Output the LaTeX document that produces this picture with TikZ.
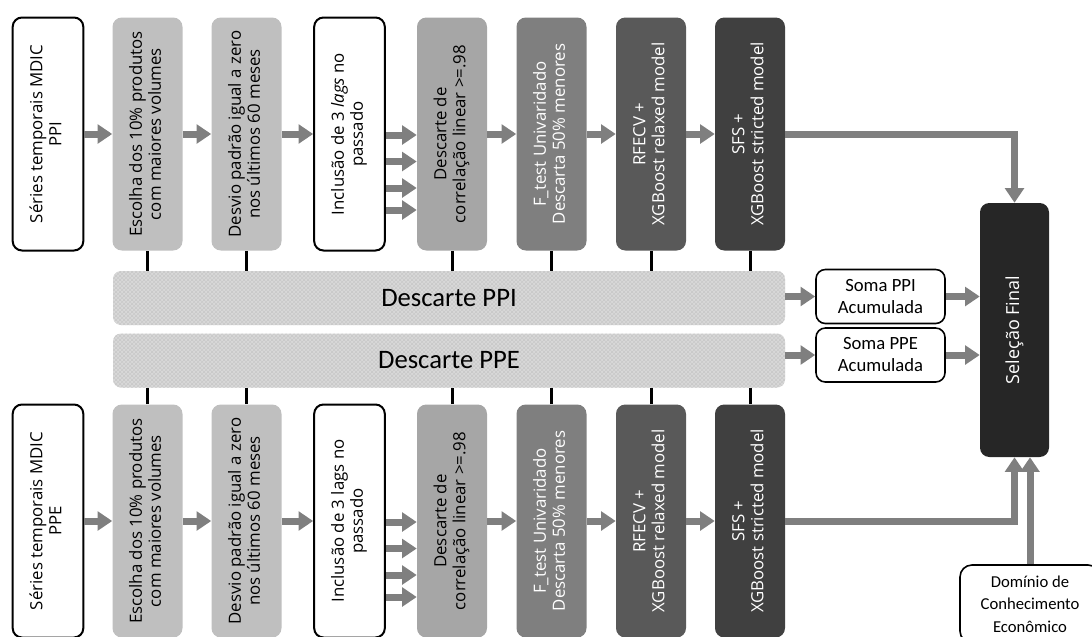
\documentclass[tikz,border=0pt]{standalone}
\usepackage{fontspec}
\setmainfont{Carlito}
\newfontfamily\boxfont{Open Sans}
\usetikzlibrary{arrows.meta}
\usetikzlibrary{calc}
\usetikzlibrary{patterns}
\definecolor{arrowgray}{HTML}{7F7F7F}
\definecolor{greyA}{HTML}{BFBFBF}
\definecolor{greyB}{HTML}{A6A6A6}
\definecolor{greyC}{HTML}{7F7F7F}
\definecolor{greyD}{HTML}{595959}
\definecolor{greyE}{HTML}{404040}
\definecolor{greyF}{HTML}{262626}
\definecolor{bandfill}{HTML}{D9D9D9}
\definecolor{bandhatch}{HTML}{C9C9C9}
\newcommand{\vtext}[1]{\rotatebox{90}{\begin{tabular}{@{}c@{}}#1\end{tabular}}}
\tikzset{
  stage/.style={rounded corners=7pt, minimum width=52.5pt, minimum height=174.75pt,
    inner sep=0pt, font={\boxfont\fontsize{12.6}{14.3}\selectfont}},
  whitestage/.style={stage, draw=black, line width=1.5pt, fill=white, minimum width=53pt},
  greystage/.style={stage, fill=#1},
  band/.style={rounded corners=6pt, minimum width=504pt, minimum height=40.5pt,
    fill=bandfill, postaction={pattern=crosshatch, pattern color=bandhatch},
    font=\fontsize{20}{24}\selectfont},
  sumbox/.style={draw=black, line width=1.2pt, rounded corners=7pt, fill=white,
    minimum width=96.75pt, minimum height=40.5pt, align=center,
    font=\fontsize{14}{16.5}\selectfont},
  flow/.style={draw=arrowgray, line width=5.25pt, -{Triangle[length=11pt,width=14pt]}},
  tick/.style={draw=black, line width=2.25pt}
}
\begin{document}
\begin{tikzpicture}[x=0.75pt,y=-0.75pt]
\useasboundingbox (0,0) rectangle (1092,636);
\clip (0,0) rectangle (1092,636);
% linha PPI
\node[whitestage] (ts1) at (48,134) {\vtext{Séries temporais MDIC\\PPI}};
\node[greystage=greyA] (ts2) at (147.5,134) {\vtext{Escolha dos 10\% produtos\\com maiores volumes}};
\node[greystage=greyA] (ts3) at (246.5,134) {\vtext{Desvio padrão igual a zero\\nos últimos 60 meses}};
\node[whitestage] (ts4) at (349.5,134) {\vtext{Inclusão de 3 \textit{lags} no\\passado}};
\node[greystage=greyB] (ts5) at (452,134) {\vtext{Descarte de\\correlação linear >=.98}};
\node[greystage=greyC,text=white] (ts6) at (551.5,134) {\vtext{F\_test Univaridado\\Descarta 50\% menores}};
\node[greystage=greyD,text=white] (ts7) at (651,134) {\vtext{RFECV +\\XGBoost relaxed model}};
\node[greystage=greyE,text=white] (ts8) at (750,134) {\vtext{SFS +\\XGBoost stricted model}};
% linha PPE
\node[whitestage] (bs1) at (48,521) {\vtext{Séries temporais MDIC\\PPE}};
\node[greystage=greyA] (bs2) at (147.5,521) {\vtext{Escolha dos 10\% produtos\\com maiores volumes}};
\node[greystage=greyA] (bs3) at (246.5,521) {\vtext{Desvio padrão igual a zero\\nos últimos 60 meses}};
\node[whitestage] (bs4) at (349.5,521) {\vtext{Inclusão de 3 lags no\\passado}};
\node[greystage=greyB] (bs5) at (452,521) {\vtext{Descarte de\\correlação linear >=.98}};
\node[greystage=greyC,text=white] (bs6) at (551.5,521) {\vtext{F\_test Univaridado\\Descarta 50\% menores}};
\node[greystage=greyD,text=white] (bs7) at (651,521) {\vtext{RFECV +\\XGBoost relaxed model}};
\node[greystage=greyE,text=white] (bs8) at (750,521) {\vtext{SFS +\\XGBoost stricted model}};
% descartes
\node[band] (ppi) at (449,298) {Descarte PPI};
\node[band] (ppe) at (449,360.5) {Descarte PPE};
\node[sumbox] (sumppi) at (880.5,296.5) {Soma PPI\\Acumulada};
\node[sumbox] (sumppe) at (880.5,355) {Soma PPE\\Acumulada};
\node[rounded corners=7pt, fill=greyF, text=white, minimum width=51.75pt, minimum height=190.5pt,
  inner sep=0pt, font={\boxfont\fontsize{13.5}{16}\selectfont}] (final) at (1014.5,330)
  {\rotatebox{90}{Seleção Final}};
\node[draw=black, line width=1.2pt, rounded corners=9pt, fill=white, minimum width=105pt,
  minimum height=58.5pt, align=center, font=\fontsize{12.5}{17}\selectfont] (dom) at (1030,604)
  {Domínio de\\Conhecimento\\Econômico};
% fluxos
\draw[flow] (ts1.east) -- (ts2.west);
\draw[flow] (ts2.east) -- (ts3.west);
\draw[flow] (ts3.east) -- (ts4.west);
\draw[flow] (ts5.east) -- (ts6.west);
\draw[flow] (ts6.east) -- (ts7.west);
\draw[flow] (ts7.east) -- (ts8.west);
\draw[flow] (bs1.east) -- (bs2.west);
\draw[flow] (bs2.east) -- (bs3.west);
\draw[flow] (bs3.east) -- (bs4.west);
\draw[flow] (bs5.east) -- (bs6.west);
\draw[flow] (bs6.east) -- (bs7.west);
\draw[flow] (bs7.east) -- (bs8.west);
\foreach \dy in {1,27.5,54,76}{
  \draw[flow] ($(ts4.east)+(0,\dy)$) -- ($(ts5.west)+(0,\dy)$);
  \draw[flow] ($(bs4.east)+(0,\dy)$) -- ($(bs5.west)+(0,\dy)$);
}
\foreach \n in {2,3,5,6,7,8}{
  \draw[tick] (ts\n.south) -- (ts\n.south |- ppi.north);
  \draw[tick] (bs\n.north) -- (bs\n.north |- ppe.south);
}
\draw[flow] (ppi.east |- sumppi.west) -- (sumppi.west);
\draw[flow] (ppe.east |- sumppe.west) -- (sumppe.west);
\draw[flow] (sumppi.east) -- (sumppi.east -| final.west);
\draw[flow] (sumppe.east) -- (sumppe.east -| final.west);
\draw[flow] (ts8.east) -| (final.north);
\draw[flow] (bs8.east) -| (final.south);
\draw[flow] (dom.north) -- (dom.north |- final.south);
\end{tikzpicture}
\end{document}
